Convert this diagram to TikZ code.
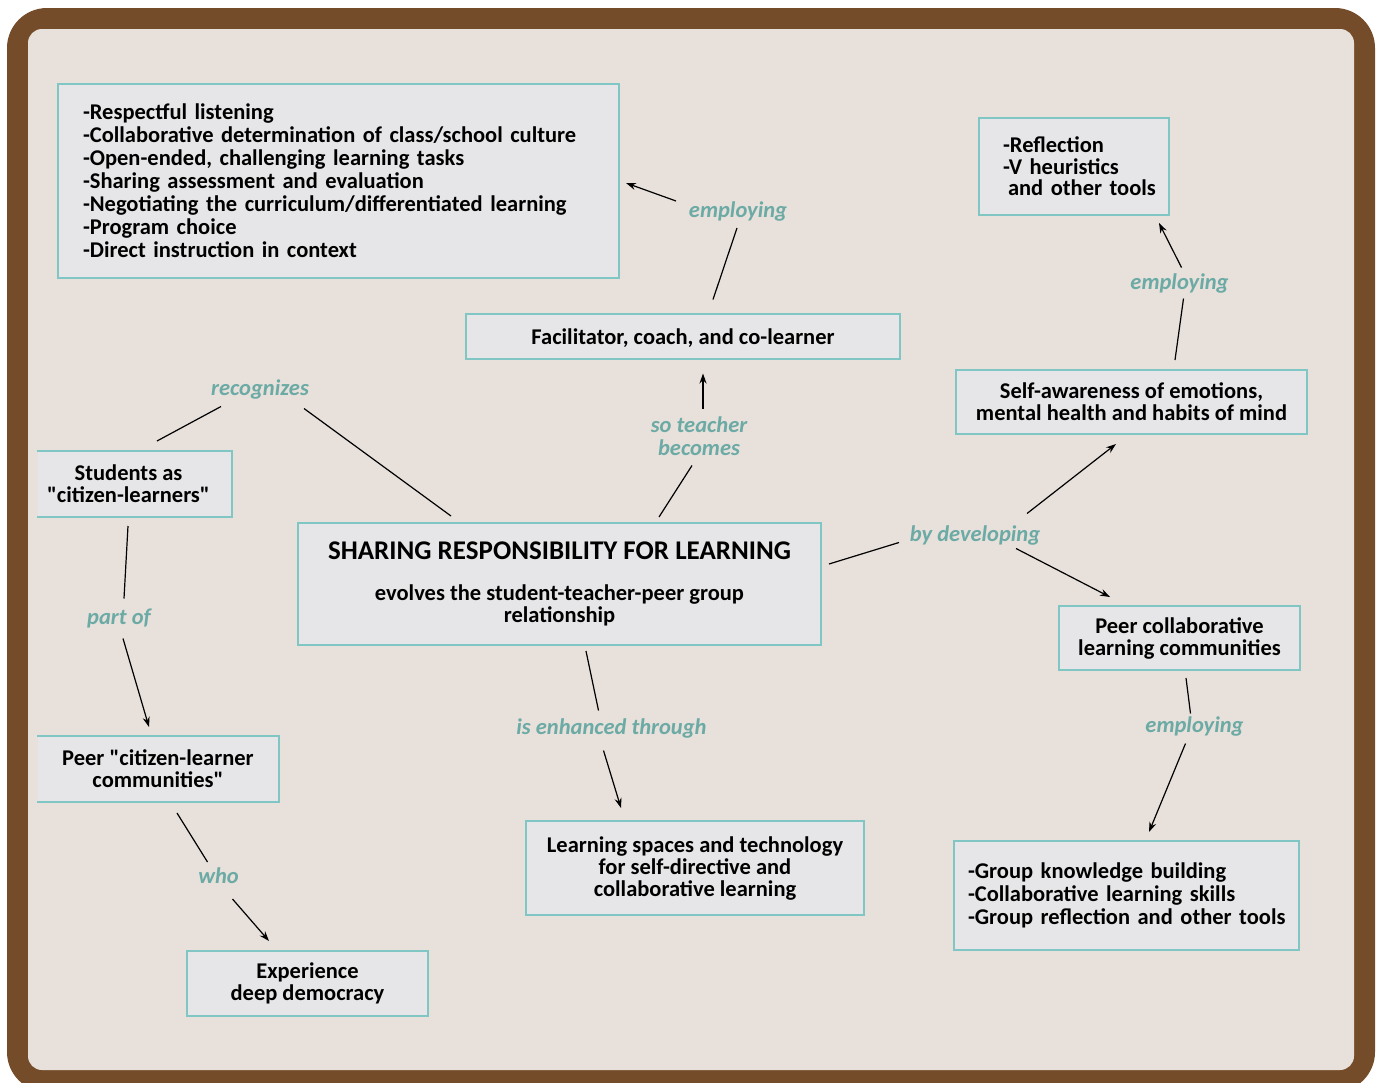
\documentclass[tikz,border=0pt]{standalone}
\usepackage{fontspec}
\setmainfont{Carlito}[Ligatures=TeXOff]
\usetikzlibrary{arrows.meta}
\definecolor{frameBrown}{RGB}{117,76,41}
\definecolor{paper}{RGB}{232,224,218}
\definecolor{boxFill}{RGB}{230,230,232}
\definecolor{boxLine}{RGB}{128,198,196}
\definecolor{lblColor}{RGB}{107,170,165}
\newcommand{\lind}[1]{\hspace*{#1}}
\begin{document}
\begin{tikzpicture}[x=1pt,y=1pt,
 box/.style={fill=boxFill, draw=boxLine, line width=2pt, inner sep=0pt, align=center, font=\bfseries\fontsize{22.5}{22}\selectfont},
 openbox/.style={box, draw=none},
 listbox/.style={box, align=left, font=\bfseries\fontsize{22.5}{23}\selectfont},
 lbl/.style={inner sep=0pt, text=lblColor, font=\bfseries\itshape\fontsize{22.5}{23}\selectfont, align=center},
 link/.style={line width=1.2pt, black},
 arr/.style={link, -{Stealth[length=10pt,width=7pt]}}
]
\useasboundingbox (0,0) rectangle (1381,-1082);
\fill[white] (0,0) rectangle (1381,-1082);
\fill[frameBrown, rounded corners=40pt] (7,-8) rectangle (1375,-1092);
\fill[paper, rounded corners=14pt] (28,-29) rectangle (1354,-1070);

% boxes
\node[listbox, text width=561pt, minimum height=194pt] (tools) at (338.5,-181)
 {\lind{25pt}-Respectful listening\\\lind{25pt}-Collaborative determination of class/school culture\\\lind{25pt}-Open-ended, challenging learning tasks\\\lind{25pt}-Sharing assessment and evaluation\\\lind{25pt}-Negotiating the curriculum/differentiated learning\\\lind{25pt}-Program choice\\\lind{25pt}-Direct instruction in context};
\node[box, minimum width=434pt, minimum height=45pt, text height=18pt, text depth=1pt] (facil) at (683,-336) {Facilitator, coach, and co-learner};
\node[listbox, text width=190pt, minimum height=97pt, font=\bfseries\fontsize{22.5}{21.5}\selectfont] (refl) at (1074,-166.5)
 {\lind{24pt}-Reflection\\\lind{24pt}-V heuristics\\\lind{29pt}and other tools};
\node[box, minimum width=351pt, minimum height=64pt] (selfaw) at (1131.5,-402) {Self-awareness of emotions,\\mental health and habits of mind};
\node[openbox, minimum width=193pt, minimum height=64pt] (students) at (134.5,-484) {\lind{-12pt}Students as\\\lind{-12pt}"citizen-learners"};
\node[box, minimum width=523pt, minimum height=122pt] (main) at (559.5,-584)
 {{\fontsize{27}{27}\selectfont SHARING RESPONSIBILITY FOR LEARNING}\\[19pt]evolves the student-teacher-peer group\\relationship};
\node[openbox, minimum width=240pt, minimum height=64pt] (peer) at (158,-769) {Peer "citizen-learner\\communities"};
\node[box, minimum width=241pt, minimum height=65pt] (exper) at (307.5,-983.5) {Experience\\deep democracy};
\node[box, minimum width=338pt, minimum height=94pt] (learn) at (695,-868) {Learning spaces and technology\\for self-directive and\\collaborative learning};
\node[box, minimum width=241pt, minimum height=64pt] (peercoll) at (1179.5,-638) {Peer collaborative\\learning communities};
\node[listbox, text width=345pt, minimum height=109pt] (group) at (1126.5,-895.5)
 {\lind{14pt}-Group knowledge building\\\lind{14pt}-Collaborative learning skills\\\lind{14pt}-Group reflection and other tools};

\draw[boxLine, line width=2pt] (students.south west) -| (students.north east) -- (students.north west);
\draw[boxLine, line width=2pt] (peer.south west) -| (peer.north east) -- (peer.north west);

% labels
\node[lbl] (lemp1) at (738,-211) {employing};
\node[lbl] (lrec) at (260,-389.5) {recognizes};
\node[lbl] (lso) at (699,-436.5) {so teacher\\becomes};
\node[lbl] (lemp2) at (1179.5,-283.5) {employing};
\node[lbl] (lby) at (975,-535.5) {by developing};
\node[lbl] (lpart) at (119,-618.5) {part of};
\node[lbl] (lenh) at (611.5,-728.5) {is enhanced through};
\node[lbl] (lemp3) at (1194.5,-726.5) {employing};
\node[lbl] (lwho) at (218.5,-876) {who};

% connectors
\draw[link] ([shift={(-108.5,6)}]main.north) -- ([shift={(44,-19)}]lrec.center);
\draw[link] ([shift={(-39,-17)}]lrec.center) -- ([shift={(22.5,10)}]students.north);
\draw[link] ([shift={(99.5,5)}]main.north) -- ([shift={(-7,-29)}]lso.center);
\draw[arr] ([shift={(4,28)}]lso.center) -- ([shift={(20,-14)}]facil.south);
\draw[link] ([shift={(30,13)}]facil.north) -- ([shift={(-1,-17)}]lemp1.center);
\draw[arr] ([shift={(-62,10)}]lemp1.center) -- ([shift={(6,-2)}]tools.east);
\draw[link] ([shift={(7,20)}]main.east) -- ([shift={(-76,-7)}]lby.center);
\draw[arr] ([shift={(52,22)}]lby.center) -- ([shift={(-15.5,-9)}]selfaw.south);
\draw[arr] ([shift={(41,-13)}]lby.center) -- ([shift={(-69.5,8)}]peercoll.north);
\draw[link] ([shift={(43.5,9)}]selfaw.north) -- ([shift={(4,-15)}]lemp2.center);
\draw[arr] ([shift={(2,16)}]lemp2.center) -- ([shift={(85,-7)}]refl.south);
\draw[link] ([shift={(6.5,-7)}]peercoll.south) -- ([shift={(-4,13)}]lemp3.center);
\draw[arr] ([shift={(-9,-17)}]lemp3.center) -- ([shift={(22.5,8)}]group.north);
\draw[link] ([shift={(26.5,-5)}]main.south) -- ([shift={(-13,18)}]lenh.center);
\draw[arr] ([shift={(-8,-22)}]lenh.center) -- ([shift={(-74,12)}]learn.north);
\draw[link] ([shift={(-6.5,-9)}]students.south) -- ([shift={(5,20)}]lpart.center);
\draw[arr] ([shift={(4,-20)}]lpart.center) -- ([shift={(-9,9)}]peer.north);
\draw[link] ([shift={(19,-11)}]peer.south) -- ([shift={(-11,14)}]lwho.center);
\draw[arr] ([shift={(14,-23)}]lwho.center) -- ([shift={(-38.5,9)}]exper.north);
\end{tikzpicture}
\end{document}
